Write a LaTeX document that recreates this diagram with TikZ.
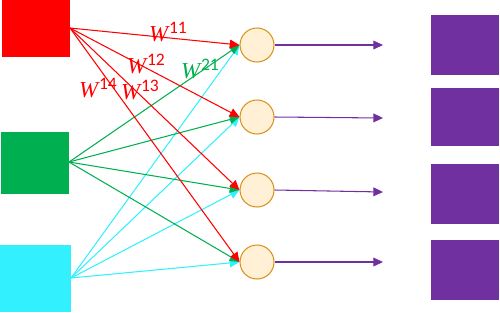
\documentclass[tikz,border=0pt]{standalone}
\usepackage{fontspec}
\newfontfamily\wserif{Liberation Serif}
\newfontfamily\wsans{Carlito}
\usetikzlibrary{arrows.meta}
\definecolor{cred}{HTML}{FF0000}
\definecolor{cgreen}{HTML}{00B050}
\definecolor{ccyan}{HTML}{33F0FF}
\definecolor{cpurple}{HTML}{7030A0}
\definecolor{cfill}{HTML}{FFF0D6}
\definecolor{cedge}{HTML}{D8951E}
\newcommand\wlab[1]{{\wserif\itshape\fontsize{13}{15}\selectfont W}\kern0.5pt\raisebox{5pt}{\wsans\fontsize{10}{12}\selectfont #1}}
\begin{document}
\begin{tikzpicture}[x=0.02cm,y=-0.02cm,
  neuron/.style={circle,draw=cedge,fill=cfill,line width=0.6pt,minimum size=0.68cm,inner sep=0pt},
  outsq/.style={fill=cpurple,minimum width=1.36cm,inner sep=0pt,anchor=north west},
  conn/.style={line width=0.6pt,-{Triangle[length=5.5pt,width=5pt]}},
  wl/.style={inner sep=0pt}]
\useasboundingbox (0,0) rectangle (500,312);
% inputs
\fill[cred] (2,0) rectangle (70,57);
\fill[cgreen] (1,132) rectangle (69,194);
\fill[ccyan] (0,245) rectangle (71,312);
\coordinate (r) at (70,28);
\coordinate (g) at (69,162);
\coordinate (c) at (71,278);
% neurons
\node[neuron] (n1) at (257,45) {};
\node[neuron] (n2) at (257,117) {};
\node[neuron] (n3) at (257,190) {};
\node[neuron] (n4) at (257,262) {};
% outputs
\node[outsq,minimum height=1.2cm] (o1) at (431,15) {};
\node[outsq,minimum height=1.16cm] (o2) at (431,88) {};
\node[outsq,minimum height=1.2cm] (o3) at (431,164) {};
\node[outsq,minimum height=1.2cm] (o4) at (431,240) {};
\coordinate (e1) at (383,45);
\coordinate (e2) at (383,118);
\coordinate (e3) at (383,192);
\coordinate (e4) at (383,262);
% connections
\foreach \i in {1,2,3,4} {
  \draw[conn,ccyan] (c) -- (n\i.west);
}
\foreach \i in {1,2,3,4} {
  \draw[conn,cgreen] (g) -- (n\i.west);
}
\foreach \i in {1,2,3,4} {
  \draw[conn,cred] (r) -- (n\i.west);
}
\foreach \i in {1,2,3,4} {
  \draw[conn,cpurple] (n\i.east) -- (e\i);
}
% labels
\node[wl,text=cred] (w11) at (168,32) {\wlab{11}};
\node[wl,text=cred] (w12) at (146,64) {\wlab{12}};
\node[wl,text=cred] (w14) at (98,88) {\wlab{14}};
\node[wl,text=cred] (w13) at (140,90) {\wlab{13}};
\node[wl,text=cgreen] (w21) at (200,69) {\wlab{21}};
\end{tikzpicture}
\end{document}
